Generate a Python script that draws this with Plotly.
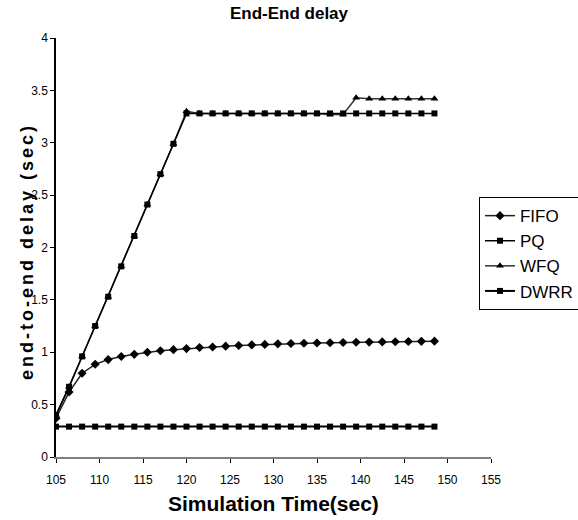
import plotly.graph_objects as go

time = [105 + 1.5 * i for i in range(30)]

fifo = [0.37, 0.62, 0.80, 0.885, 0.93, 0.96, 0.98, 1.0, 1.015, 1.025,
        1.035, 1.045, 1.05, 1.058, 1.065, 1.07, 1.075, 1.08, 1.083, 1.086,
        1.089, 1.091, 1.093, 1.095, 1.097, 1.099, 1.10, 1.102, 1.104, 1.106]
pq = [0.40, 0.67, 0.96, 1.25, 1.53, 1.82, 2.11, 2.41, 2.70, 2.99,
      3.28, 3.28, 3.28, 3.28, 3.28, 3.28, 3.28, 3.28, 3.28, 3.28,
      3.28, 3.28, 3.28, 3.28, 3.28, 3.28, 3.28, 3.28, 3.28, 3.28]
wfq = [0.40, 0.67, 0.96, 1.25, 1.53, 1.82, 2.11, 2.41, 2.70, 2.99,
       3.30, 3.28, 3.28, 3.28, 3.28, 3.28, 3.28, 3.28, 3.28, 3.28,
       3.28, 3.27, 3.27, 3.43, 3.42, 3.42, 3.42, 3.42, 3.42, 3.42]
dwrr = [0.29] * 30

FONT = "Liberation Sans, Arial"

fig = go.Figure()
fig.add_trace(go.Scatter(x=time, y=wfq, name="WFQ", mode="lines+markers",
                         line=dict(color="#333333", width=1.5),
                         marker=dict(symbol="triangle-up", size=7, color="black"),
                         legendrank=3))
fig.add_trace(go.Scatter(x=time, y=fifo, name="FIFO", mode="lines+markers",
                         line=dict(color="#222222", width=1.5),
                         marker=dict(symbol="diamond", size=7, color="black"),
                         legendrank=1))
fig.add_trace(go.Scatter(x=time, y=pq, name="PQ", mode="lines+markers",
                         line=dict(color="black", width=1.5),
                         marker=dict(symbol="square", size=6, color="black"),
                         legendrank=2))
fig.add_trace(go.Scatter(x=time, y=dwrr, name="DWRR", mode="lines+markers",
                         line=dict(color="black", width=2),
                         marker=dict(symbol="square", size=6, color="black"),
                         legendrank=4))

fig.update_layout(
    width=578, height=520,
    margin=dict(l=56, r=87, t=38, b=63, autoexpand=False),
    paper_bgcolor="white", plot_bgcolor="white",
    title=dict(text="<b>End-End delay</b>", x=0.5, xanchor="center",
               y=0.975, yanchor="middle",
               font=dict(family=FONT, size=17, color="black")),
    showlegend=True,
    legend=dict(xref="container", yref="container",
                x=0.8287, xanchor="left", y=0.621, yanchor="top",
                bordercolor="black", borderwidth=1, bgcolor="white",
                font=dict(family=FONT, size=17, color="black"),
                itemwidth=30, tracegroupgap=0),
    xaxis=dict(range=[105, 155], dtick=5, tick0=105, showgrid=False, zeroline=False,
               showline=True, linecolor="#808080", linewidth=1.5,
               ticks="outside", ticklen=4, tickcolor="black", ticklabelstandoff=7,
               tickfont=dict(family=FONT, size=12, color="black")),
    yaxis=dict(range=[0, 4], dtick=0.5, showgrid=False, zeroline=False,
               showline=True, linecolor="black", linewidth=1.5,
               ticks="outside", ticklen=4, tickcolor="black",
               tickfont=dict(family=FONT, size=12, color="black")),
    annotations=[
        dict(text="<b>Simulation Time(sec)</b>", xref="paper", yref="paper",
             x=0.5, y=-0.11, xanchor="center", yanchor="middle", showarrow=False,
             font=dict(family=FONT, size=21, color="black")),
        dict(text="<b>end-to-end delay (sec)</b>", xref="paper", yref="paper",
             x=-0.0667, y=0.4916, xanchor="center", yanchor="middle", showarrow=False,
             textangle=-90, font=dict(family=FONT, size=18, color="black")),
    ],
)

fig.write_html(
    "out.html",
    post_script=(
        "document.querySelectorAll('.annotation-text').forEach(function(t){"
        "if(t.textContent.indexOf('end-to-end')===0){t.style.letterSpacing='3px';}});"
    ),
)
